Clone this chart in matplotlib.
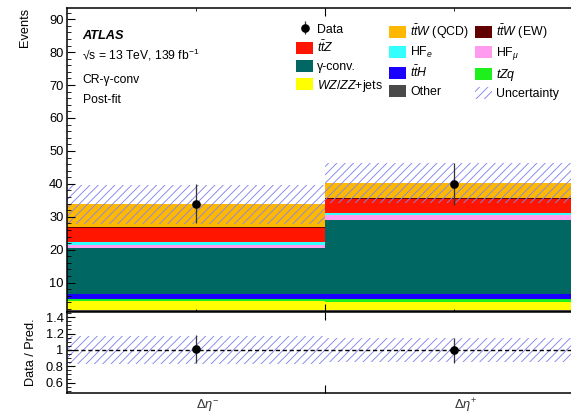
import numpy as np
import matplotlib
matplotlib.use("Agg")
import matplotlib.pyplot as plt
from matplotlib.ticker import MultipleLocator, FuncFormatter, FixedLocator, NullFormatter
from matplotlib.patches import Patch

plt.rcParams['font.family'] = ['Liberation Sans', 'DejaVu Sans']
plt.rcParams['mathtext.fontset'] = 'custom'
plt.rcParams['mathtext.rm'] = 'Liberation Sans'
plt.rcParams['mathtext.it'] = 'Liberation Sans:italic'
plt.rcParams['mathtext.bf'] = 'Liberation Sans:bold'
plt.rcParams['mathtext.sf'] = 'Liberation Sans'
plt.rcParams['hatch.linewidth'] = 0.65

# ---- data -------------------------------------------------------------
categories = [r'$\Delta\eta^{-}$', r'$\Delta\eta^{+}$']
bin_edges = [0, 1, 2]
data = [34, 40]

# background yields, listed from the bottom of the stack upwards
other = [1.8, 1.8]
wz_zz = [2.55, 2.45]
tzq = [0.6, 0.72]
tth = [1.6, 1.6]
gamma_conv = [14.0, 22.4]
hf_mu = [0.9, 1.55]
hf_e = [0.75, 0.5]
ttz = [4.45, 4.35]
ttw_ew = [0.2, 0.4]
ttw_qcd = [6.9, 4.5]
uncertainty = [5.8, 6.1]

stack = [
    (other, 'Other', '#4a4a4a'),
    (wz_zz, r'$WZ/ZZ$+jets', '#ffff00'),
    (tzq, r'$tZq$', '#1ef01e'),
    (tth, r'$t\bar{t}H$', '#1a00ff'),
    (gamma_conv, 'γ-conv.', '#006763'),
    (hf_mu, r'HF$_{\mu}$', '#ff9cf0'),
    (hf_e, r'HF$_{e}$', '#33ffff'),
    (ttz, r'$t\bar{t}Z$', '#ff1500'),
    (ttw_ew, r'$t\bar{t}W$ (EW)', '#600000'),
    (ttw_qcd, r'$t\bar{t}W$ (QCD)', '#ffb800'),
]
hatch_color = '#8585ee'

# ---- figure layout ----------------------------------------------------
W, H = 571, 415
fig = plt.figure(figsize=(W / 100, H / 100), dpi=100)


def frac(x0, y0, x1, y1):
    return [x0 / W, 1 - y1 / H, (x1 - x0) / W, (y1 - y0) / H]


ax = fig.add_axes(frac(67, 8, 583, 312.3))
axr = fig.add_axes(frac(67, 312.3, 583, 392.5), sharex=ax)

edges = np.array(bin_edges, dtype=float)
left = edges[:-1]
width = np.diff(edges)
centers = left + width / 2

# ---- stacked prediction -----------------------------------------------
bottom = np.zeros(len(data))
handles = {}
for values, label, color in stack:
    v = np.array(values, dtype=float)
    ax.bar(left, v, width=width, bottom=bottom, align='edge',
           color=color, linewidth=0, label=label)
    handles[label] = Patch(facecolor=color, edgecolor='none')
    bottom = bottom + v
total = bottom
unc = np.array(uncertainty, dtype=float)

ax.bar(left, 2 * unc, width=width, bottom=total - unc, align='edge',
       facecolor='none', edgecolor=hatch_color, hatch='////', linewidth=0)
unc_handle = Patch(facecolor='none', edgecolor=hatch_color, hatch='////', linewidth=0)

d = np.array(data, dtype=float)
data_handle = ax.errorbar(centers, d, yerr=np.sqrt(d), fmt='o', color='black',
                          ms=5.2, elinewidth=0.9, ecolor='#333333', capsize=0)

ax.set_xlim(edges[0], edges[-1])
ax.set_ylim(1.0, 93.4)
ax.yaxis.set_major_locator(MultipleLocator(10))
ax.yaxis.set_minor_locator(MultipleLocator(2))
ax.set_ylabel('Events', loc='top', fontsize=9.2, labelpad=13)

# ---- ratio panel ------------------------------------------------------
ratio = d / total
rel_unc = unc / total
axr.bar(left, 2 * rel_unc, width=width, bottom=1 - rel_unc, align='edge',
        facecolor='none', edgecolor=hatch_color, hatch='////', linewidth=0)
axr.axhline(1.0, color='black', lw=1.0, ls=(0, (3, 2)))
axr.errorbar(centers, ratio, yerr=np.sqrt(d) / total, fmt='o', color='black',
             ms=5.2, elinewidth=0.9, ecolor='#333333', capsize=0)
axr.set_ylim(0.48, 1.46)
axr.yaxis.set_major_locator(FixedLocator([0.6, 0.8, 1.0, 1.2, 1.4]))
axr.yaxis.set_minor_locator(MultipleLocator(0.05))
axr.yaxis.set_major_formatter(FuncFormatter(lambda v, p: f'{v:g}'))
axr.set_ylabel('Data / Pred.', fontsize=9.2, labelpad=6)

# bin boundary ticks and category labels
for a in (ax, axr):
    a.xaxis.set_major_locator(FixedLocator(list(edges[1:-1])))
    a.xaxis.set_major_formatter(NullFormatter())
    a.tick_params(axis='both', which='both', direction='in',
                  top=True, right=True, labelsize=9.3)
    a.tick_params(axis='y', which='major', length=5.5, width=0.8, pad=2.5)
    a.tick_params(axis='y', which='minor', length=2.8, width=0.6)
    a.tick_params(axis='x', which='major', length=6, width=0.8)
    for s in a.spines.values():
        s.set_linewidth(1.1)
ax.tick_params(axis='x', which='both', labelbottom=False)
axr.set_xticks(centers, categories, minor=True)
axr.tick_params(axis='x', which='minor', length=0, pad=3, labelsize=9.3,
                top=False)
for t in axr.xaxis.get_minorticklabels():
    t.set_horizontalalignment('left')
    t.set_color('#333333')

fig.align_ylabels([ax, axr])

# ---- annotations ------------------------------------------------------
def ftext(x, y, s, **kw):
    fig.text(x / W, 1 - y / H, s, va='center', ha='left', **kw)


ftext(82.5, 36, 'ATLAS', fontsize=9.2, fontweight='bold', fontstyle='italic')
ftext(82.5, 55, '√s = 13 TeV, 139 fb$^{-1}$', fontsize=8.7)
ftext(82.5, 80, 'CR-γ-conv', fontsize=8.7)
ftext(82.5, 100, 'Post-fit', fontsize=8.7)

# ---- legend in three columns --------------------------------------------
columns = [
    (296, [(data_handle, 'Data'),
           (handles[r'$t\bar{t}Z$'], r'$t\bar{t}Z$'),
           (handles['γ-conv.'], 'γ-conv.'),
           (handles[r'$WZ/ZZ$+jets'], r'$WZ/ZZ$+jets')]),
    (389, [(handles[r'$t\bar{t}W$ (QCD)'], r'$t\bar{t}W$ (QCD)'),
           (handles[r'HF$_{e}$'], r'HF$_{e}$'),
           (handles[r'$t\bar{t}H$'], r'$t\bar{t}H$'),
           (handles['Other'], 'Other')]),
    (475, [(handles[r'$t\bar{t}W$ (EW)'], r'$t\bar{t}W$ (EW)'),
           (handles[r'HF$_{\mu}$'], r'HF$_{\mu}$'),
           (handles[r'$tZq$'], r'$tZq$'),
           (unc_handle, 'Uncertainty')]),
]
for x0, entries in columns:
    hs, ls = zip(*entries)
    fig.legend(hs, ls, loc='upper left', bbox_to_anchor=(x0 / W, 1 - 22.5 / H),
               bbox_transform=fig.transFigure, frameon=False, fontsize=8.9,
               borderpad=0, borderaxespad=0, handlelength=1.4, handleheight=1.1,
               handletextpad=0.3, labelspacing=0.36)

fig.savefig('out.png', dpi=100)
